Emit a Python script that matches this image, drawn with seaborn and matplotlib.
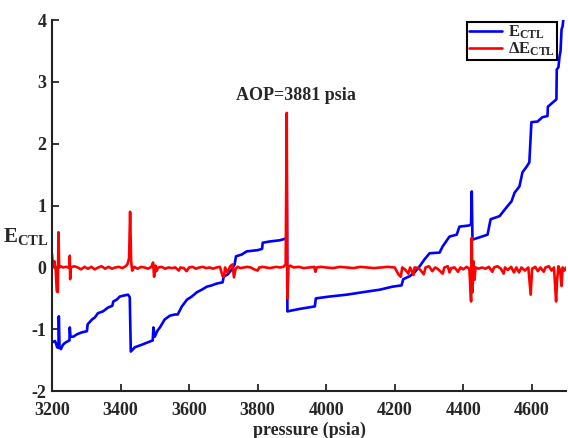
import matplotlib
matplotlib.use("Agg")
import matplotlib.pyplot as plt
import seaborn as sns
import pandas as pd

# ---- data ----
e_pressure = [3200, 3209, 3213, 3215, 3219, 3220, 3222, 3226, 3232, 3238, 3244, 3251, 3252, 3254,
              3262, 3273, 3287, 3302, 3304, 3317, 3325, 3334, 3349, 3363, 3376, 3379, 3389, 3398,
              3413, 3422, 3427, 3430, 3442, 3462, 3480, 3494, 3496, 3500, 3508, 3515, 3529, 3544,
              3559, 3567, 3579, 3594, 3608, 3623, 3637, 3652, 3666, 3681, 3698, 3701, 3713, 3725,
              3733, 3737, 3754, 3768, 3800, 3813, 3815, 3835, 3865, 3884, 3885, 3887, 3923, 3967,
              3970, 4010, 4060, 4107, 4156, 4194, 4220, 4225, 4244, 4258, 4273, 4287, 4302, 4331,
              4340, 4360, 4381, 4389, 4418, 4423, 4425, 4427, 4471, 4480, 4506, 4529, 4541, 4550,
              4564, 4573, 4585, 4593, 4599, 4617, 4631, 4646, 4647, 4672, 4673, 4678, 4681, 4684,
              4687, 4690, 4693]
e_ctl = [-1.21, -1.19, -1.25, -1.29, -1.30, -0.79, -1.29, -1.32, -1.25, -1.22, -1.20, -1.18, -0.97, -1.12,
         -1.12, -1.08, -1.05, -1.03, -0.92, -0.84, -0.81, -0.74, -0.71, -0.65, -0.62, -0.55, -0.52, -0.47,
         -0.45, -0.44, -0.48, -1.36, -1.29, -1.25, -1.21, -1.18, -0.97, -1.12, -1.02, -0.97, -0.84, -0.78,
         -0.76, -0.76, -0.63, -0.52, -0.47, -0.40, -0.36, -0.31, -0.29, -0.26, -0.24, -0.15, -0.11, -0.03,
         0.05, 0.18, 0.21, 0.26, 0.28, 0.30, 0.40, 0.42, 0.44, 0.47, 1.53, -0.71, -0.67, -0.63,
         -0.50, -0.47, -0.44, -0.40, -0.36, -0.31, -0.29, -0.19, -0.14, -0.08, 0.02, 0.13, 0.23, 0.24,
         0.34, 0.50, 0.53, 0.66, 0.68, 0.70, 1.23, 0.45, 0.53, 0.78, 0.83, 0.99, 1.07, 1.21,
         1.31, 1.54, 1.63, 1.70, 2.35, 2.36, 2.43, 2.45, 2.60, 2.72, 3.20, 3.24, 3.41, 3.50,
         3.85, 3.90, 4.05]

d_pressure = [3200, 3203, 3207, 3211, 3214, 3217, 3219, 3221, 3226, 3232, 3240, 3250, 3252, 3253,
              3255, 3265, 3275, 3285, 3295, 3305, 3315, 3325, 3335, 3345, 3355, 3365, 3375, 3385,
              3395, 3405, 3415, 3420, 3425, 3428, 3431, 3434, 3440, 3450, 3460, 3470, 3480, 3490,
              3495, 3498, 3502, 3505, 3510, 3520, 3530, 3540, 3550, 3560, 3570, 3575, 3585, 3593,
              3600, 3610, 3620, 3630, 3640, 3650, 3660, 3670, 3680, 3690, 3698, 3702, 3705, 3712,
              3720, 3727, 3731, 3736, 3742, 3750, 3760, 3770, 3780, 3790, 3800, 3805, 3815, 3825,
              3835, 3845, 3855, 3865, 3875, 3882, 3885, 3887, 3890, 3895, 3905, 3920, 3935, 3950,
              3965, 3969, 3972, 3985, 4000, 4020, 4040, 4060, 4080, 4100, 4120, 4140, 4160, 4180,
              4200, 4212, 4218, 4222, 4230, 4240, 4245, 4255, 4258, 4270, 4285, 4290, 4300, 4310,
              4318, 4325, 4340, 4345, 4355, 4360, 4365, 4375, 4385, 4392, 4400, 4410, 4418, 4423,
              4425, 4427, 4430, 4433, 4436, 4445, 4455, 4465, 4475, 4485, 4490, 4500, 4510, 4518,
              4522, 4530, 4540, 4548, 4555, 4563, 4570, 4580, 4590, 4597, 4601, 4610, 4618, 4625,
              4635, 4640, 4650, 4658, 4665, 4671, 4674, 4678, 4683, 4687, 4690, 4695, 4700]
d_ctl = [0.22, 0.00, 0.10, -0.05, -0.38, -0.40, 0.57, 0.00, 0.02, 0.00, 0.01, 0.00, 0.19, -0.19,
         0.00, 0.02, 0.00, -0.03, 0.01, -0.02, 0.01, -0.03, 0.00, 0.02, -0.02, 0.01, -0.02, 0.00,
         0.01, -0.01, 0.02, 0.05, 0.15, 0.90, 0.10, -0.05, 0.01, -0.02, 0.01, 0.00, -0.02, 0.01,
         0.08, -0.15, 0.03, -0.06, 0.00, 0.01, -0.02, 0.00, -0.01, 0.00, -0.05, 0.00, -0.01, -0.06,
         0.00, 0.01, -0.02, 0.00, 0.01, -0.01, 0.00, -0.02, 0.00, 0.01, -0.14, -0.15, 0.00, -0.08,
         0.02, 0.05, -0.16, -0.02, 0.01, -0.01, 0.00, 0.01, 0.00, -0.03, -0.05, 0.00, 0.01, 0.00,
         -0.01, 0.00, 0.01, 0.00, 0.01, 0.05, 2.50, -0.50, 0.00, 0.03, 0.00, 0.01, -0.01, 0.00,
         0.01, -0.07, 0.00, 0.01, 0.00, -0.01, 0.01, 0.00, -0.01, 0.01, 0.00, -0.01, 0.00, 0.01,
         0.00, -0.12, -0.15, 0.00, -0.03, -0.10, 0.00, -0.12, 0.00, -0.01, -0.11, 0.00, 0.02, -0.06,
         0.00, -0.02, -0.10, 0.00, 0.02, -0.08, -0.01, 0.00, -0.07, 0.00, -0.03, 0.01, -0.02, -0.55,
         0.48, -0.40, 0.10, -0.20, 0.00, -0.02, 0.00, -0.02, 0.01, -0.07, 0.00, 0.02, -0.02, -0.10,
         0.00, -0.04, 0.01, -0.08, 0.00, -0.08, 0.00, -0.05, 0.00, -0.44, -0.02, 0.01, -0.06, 0.00,
         -0.07, 0.00, 0.02, -0.05, 0.00, -0.55, -0.20, 0.02, -0.05, -0.30, 0.00, -0.05, 0.00]

x_ticks = [3200, 3400, 3600, 3800, 4000, 4200, 4400, 4600]
y_ticks = [-2, -1, 0, 1, 2, 3, 4]
label_e = r'$\mathbf{E}_{\mathbf{CTL}}$'
label_d = r'$\mathbf{\Delta E}_{\mathbf{CTL}}$'
annotation = "AOP=3881 psia"

# ---- styling ----
sns.set_style("ticks")
plt.rcParams['font.family'] = ['Liberation Serif', 'DejaVu Serif']
plt.rcParams['font.weight'] = 'bold'
plt.rcParams['axes.unicode_minus'] = False
plt.rcParams['mathtext.fontset'] = 'custom'
plt.rcParams['mathtext.rm'] = 'Liberation Serif:bold'
plt.rcParams['mathtext.bf'] = 'Liberation Serif:bold'
plt.rcParams['mathtext.it'] = 'Liberation Serif:bold'

df_e = pd.DataFrame({"pressure": e_pressure, "value": e_ctl})
df_d = pd.DataFrame({"pressure": d_pressure, "value": d_ctl})

fig = plt.figure(figsize=(5.68, 4.38), dpi=100)
ax = fig.add_axes([0.0915, 0.107, 0.905, 0.847])

sns.lineplot(data=df_e, x="pressure", y="value", ax=ax, color="#0000FF", lw=1.9,
             estimator=None, sort=False, label=label_e)
sns.lineplot(data=df_d, x="pressure", y="value", ax=ax, color="#FF0000", lw=1.9,
             estimator=None, sort=False, label=label_d)

ax.set_xlim(3200, 4700)
ax.set_ylim(-2, 4)
ax.set_xticks(x_ticks)
ax.set_yticks(y_ticks)
ax.tick_params(direction='in', length=5, width=1.3, labelsize=13)
ax.tick_params(axis='x', pad=8)
ax.tick_params(axis='y', pad=4)
for lab in ax.get_xticklabels() + ax.get_yticklabels():
    lab.set_fontweight('bold')

for s in ['top', 'right']:
    ax.spines[s].set_visible(False)
for s in ['left', 'bottom']:
    ax.spines[s].set_linewidth(1.5)
    ax.spines[s].set_color('#222222')

ax.set_xlabel("pressure (psia)", fontsize=13, fontweight='bold', labelpad=2)
ax.set_ylabel(r'$\mathbf{E}_{\mathbf{CTL}}$', fontsize=15, rotation=0, va='center', ha='center')
ax.yaxis.set_label_coords(-0.05, (0.5 + 2) / 6)

ax.text(3911, 2.78, annotation, fontsize=13, fontweight='bold', ha='center', va='center')

leg = ax.legend(loc='upper right', bbox_to_anchor=(0.985, 1.0), fontsize=12, frameon=True,
                fancybox=False, edgecolor='black', framealpha=1, handlelength=2.0,
                borderpad=0.1, labelspacing=0.0, handletextpad=0.35, borderaxespad=0.1)
leg.get_frame().set_linewidth(1.5)

fig.savefig("out.png", dpi=100)
